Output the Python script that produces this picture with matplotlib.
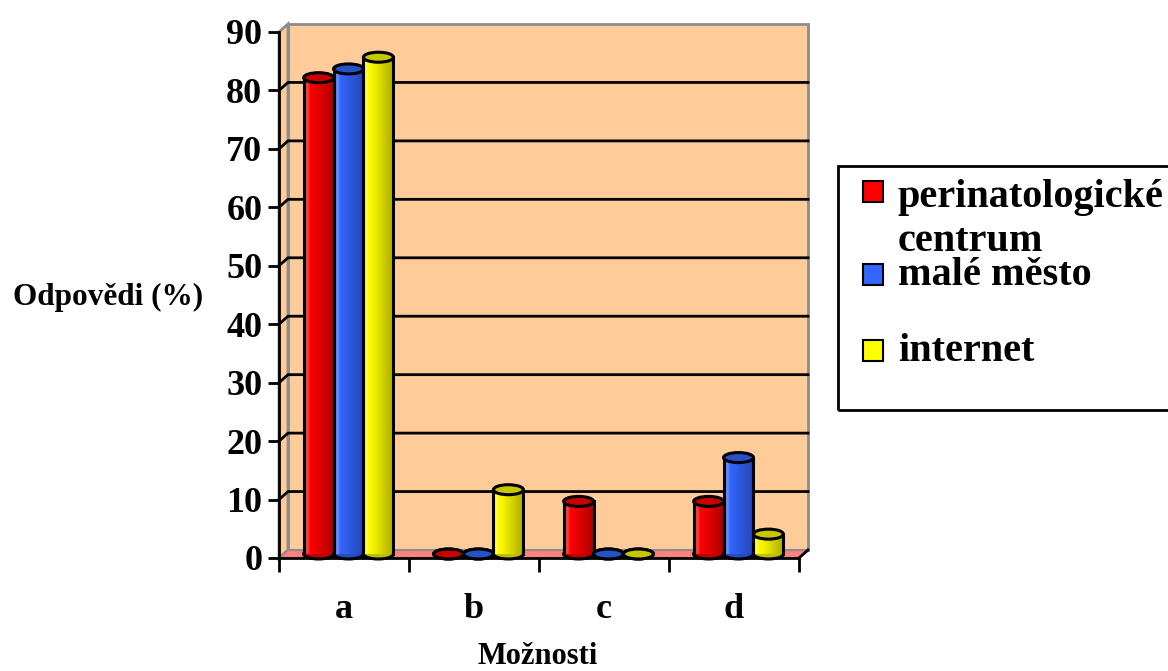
import numpy as np
import matplotlib.pyplot as plt
from matplotlib.patches import Rectangle, Ellipse, Polygon
from matplotlib.colors import to_rgb

plt.rcParams['font.family'] = ['Liberation Serif', 'DejaVu Serif']
plt.rcParams['font.weight'] = 'bold'

# answers (%) per option
categories = ['a', 'b', 'c', 'd']
perinat = [81.5, 0, 9, 9]
male_mesto = [83, 0, 0, 16.5]
internet = [85, 11, 0, 3.4]
series = [perinat, male_mesto, internet]
series_names = ['perinatologické\ncentrum', 'malé město', 'internet']
yticks = list(range(0, 100, 10))

colors = ['#FF0000', '#3366FF', '#FFFF00']
wall = '#FFCC99'
floor = '#FF8080'
edge_gray = '#8C8C8C'

W, H = 1168, 671
fig = plt.figure(figsize=(W / 100, H / 100), dpi=100)
ax = fig.add_axes([279 / W, (H - 558) / H, 520 / W, 526 / H])
ax.patch.set_visible(False)

ymax = 90
px_x = 520 / 4          # pixels per category
px_y = 526 / ymax       # pixels per percent
dx = 9 / px_x           # depth offset of the back wall
dy = 8 / px_y
bw = 0.23               # cylinder width
eh = 10 / px_y          # ellipse height


def shade(color, n=80):
    """horizontal gradient for a cylinder body"""
    base = np.array(to_rgb(color))
    t = np.linspace(0, 1, n)
    k = np.interp(t, [0, 0.12, 0.35, 1], [0.9, 1.0, 0.95, 0.68])
    hi = np.interp(t, [0, 0.1, 0.22, 1], [0.05, 0.28, 0.0, 0.0])
    rgb = base[None, :] * k[:, None]
    rgb = rgb + (1 - rgb) * hi[:, None]
    return rgb[None, :, :]


def darker(color, f):
    return tuple(np.array(to_rgb(color)) * f)


def cylinder(ax, x, h, color, z):
    y0 = dy / 2
    y1 = y0 + h
    xl = x - bw / 2
    ax.add_patch(Ellipse((x, y0), bw, eh, fc=darker(color, 0.75), ec='black',
                         lw=2.2, zorder=z, clip_on=False))
    if h > 0:
        body = Rectangle((xl, y0), bw, h, fc='none', ec='none', zorder=z + 0.1)
        ax.add_patch(body)
        im = ax.imshow(shade(color), extent=(xl, xl + bw, y0, y1), aspect='auto',
                       interpolation='bilinear', zorder=z + 0.1)
        im.set_clip_path(body)
        ax.plot([xl, xl], [y0, y1], color='black', lw=2.2, zorder=z + 0.2)
        ax.plot([xl + bw, xl + bw], [y0, y1], color='black', lw=2.2, zorder=z + 0.2)
    ax.add_patch(Ellipse((x, y1), bw, eh, fc=darker(color, 0.78), ec='black',
                         lw=2.2, zorder=z + 0.3, clip_on=False))


# walls and floor
ax.add_patch(Rectangle((dx, dy), 4, ymax, fc=wall, ec=edge_gray, lw=2,
                       zorder=0, clip_on=False))
ax.add_patch(Polygon([(0, 0), (dx, dy), (dx, ymax + dy), (0, ymax)], closed=True,
                     fc=wall, ec=edge_gray, lw=2, zorder=0, clip_on=False))
ax.add_patch(Polygon([(0, 0), (dx, dy), (4 + dx, dy), (4, 0)], closed=True,
                     fc=floor, ec=edge_gray, lw=1.5, zorder=0.5, clip_on=False))
ax.plot([4, 4 + dx], [0, dy], color='black', lw=2, zorder=0.6, clip_on=False)

# gridlines on the back wall
for v in yticks[1:-1]:
    ax.plot([0, dx, 4 + dx], [v, v + dy, v + dy], color='black', lw=2,
            zorder=1, clip_on=False)

# cylinders
z = 3
for i in range(len(categories)):
    for j, vals in enumerate(series):
        xc = i + 0.5 + (j - 1) * bw + dx / 2
        cylinder(ax, xc, vals[i], colors[j], z)
        z += 1

ax.set_xlim(0, 4)
ax.set_ylim(0, ymax)
for s in ['top', 'right']:
    ax.spines[s].set_visible(False)
for s in ['left', 'bottom']:
    ax.spines[s].set_linewidth(2)
    ax.spines[s].set_zorder(2)

ax.set_yticks(yticks)
ax.set_yticklabels([str(v) for v in yticks], fontsize=26, fontweight='bold')
ax.tick_params(axis='y', length=8, width=2, pad=4)
ax.set_xticks(range(5))
ax.set_xticklabels([])
ax.tick_params(axis='x', which='major', length=10, width=2)
ax.set_xticks([i + 0.5 for i in range(4)], minor=True)
ax.set_xticklabels(categories, minor=True, fontsize=26, fontweight='bold')
ax.tick_params(axis='x', which='minor', length=0, pad=25)

fig.text(108 / W, 1 - 297 / H, 'Odpovědi (%)', ha='center', va='center',
         fontsize=22.5, fontweight='bold')
fig.text(538 / W, 1 - 657 / H, 'Možnosti', ha='center', va='center',
         fontsize=22, fontweight='bold')

# legend
fig.add_artist(Rectangle((838 / W, 1 - 410 / H), 400 / W, 244 / H,
                         transform=fig.transFigure, fill=False, ec='black', lw=2))
sq_tops = [181, 264, 340]
baselines = [[207, 251], [285], [361]]
for j, name in enumerate(series_names):
    fig.add_artist(Rectangle((863 / W, 1 - (sq_tops[j] + 21) / H), 20 / W, 21 / H,
                             transform=fig.transFigure, fc=colors[j], ec='black', lw=1.5))
    for line, b in zip(name.split('\n'), baselines[j]):
        fig.text(898 / W, 1 - b / H, line, ha='left', va='baseline',
                 fontsize=29, fontweight='bold')

fig.savefig('out.png', dpi=100)
